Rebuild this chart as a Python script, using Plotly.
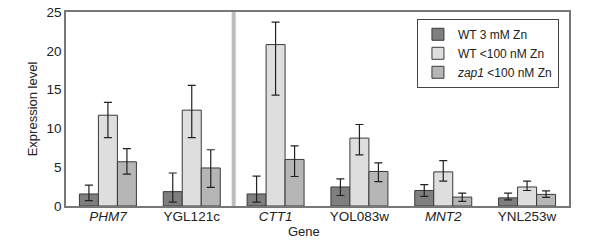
import plotly.graph_objects as go

genes = ["PHM7", "YGL121c", "CTT1", "YOL083w", "MNT2", "YNL253w"]
gene_labels = ["<i>PHM7</i>", "YGL121c", "<i>CTT1</i>", "YOL083w", "<i>MNT2</i>", "YNL253w"]

series_names = ["WT 3 mM Zn", "WT <100 nM Zn", "<i>zap1</i> <100 nM Zn"]

wt_high = [1.55, 1.85, 1.55, 2.45, 2.0, 1.05]
wt_high_up = [1.15, 2.4, 2.3, 1.05, 0.75, 0.6]
wt_high_dn = [0.85, 1.35, 1.05, 1.1, 0.75, 0.27]

wt_low = [11.7, 12.35, 20.8, 8.75, 4.4, 2.45]
wt_low_up = [1.65, 3.2, 2.9, 1.75, 1.45, 0.75]
wt_low_dn = [2.9, 3.55, 6.5, 2.15, 1.2, 0.45]

zap_low = [5.7, 4.9, 6.0, 4.45, 1.15, 1.5]
zap_low_up = [1.7, 2.35, 1.75, 1.1, 0.5, 0.45]
zap_low_dn = [1.6, 2.5, 2.2, 1.3, 0.55, 0.4]

colors = ["#7f7f7f", "#dedede", "#b6b6b6"]
values = [wt_high, wt_low, zap_low]
ups = [wt_high_up, wt_low_up, zap_low_up]
dns = [wt_high_dn, wt_low_dn, zap_low_dn]

fig = go.Figure()
for name, v, u, d, c in zip(series_names, values, ups, dns, colors):
    fig.add_trace(go.Bar(
        x=genes, y=v, name=name,
        marker=dict(color=c, line=dict(color="#3a3a3a", width=1)),
        error_y=dict(type="data", symmetric=False, array=u, arrayminus=d,
                     color="#222222", thickness=1.2, width=4),
    ))

fig.add_shape(type="line", xref="x", yref="paper", x0=1.5, x1=1.5, y0=0, y1=1,
              line=dict(color="#bdbdbd", width=4))

fig.add_annotation(text="Gene", xref="paper", yref="paper", x=0.473, y=0,
                   yshift=-25, xanchor="center", yanchor="middle",
                   showarrow=False, font=dict(size=13))

font_family = "Liberation Sans, Arial, sans-serif"
fig.update_layout(
    width=600, height=242,
    margin=dict(l=66, r=31, t=12, b=36, autoexpand=False),
    paper_bgcolor="white", plot_bgcolor="white",
    barmode="group", bargap=0.32, bargroupgap=0,
    font=dict(family=font_family, size=13, color="#222222"),
    showlegend=True,
    legend=dict(x=0.98, y=0.965, xanchor="right", yanchor="top",
                bordercolor="#444444", borderwidth=1, bgcolor="white",
                font=dict(size=12), tracegroupgap=0, itemwidth=30,
                traceorder="normal"),
    xaxis=dict(tickmode="array", tickvals=genes, ticktext=gene_labels,
               showline=True, linecolor="#777777", linewidth=1.5, mirror=True,
               ticks="", showgrid=False, automargin=False,
               ticklabelstandoff=-3,
               tickfont=dict(size=13.5)),
    yaxis=dict(range=[0, 25], dtick=5, tick0=0,
               showline=True, linecolor="#777777", linewidth=1.5, mirror=True,
               ticks="", showgrid=False, zeroline=False, automargin=False,
               tickfont=dict(size=13.5),
               title=dict(text="Expression level", standoff=6, font=dict(size=13))),
)

fig.write_html("out.html", config={"displayModeBar": False},
               post_script="document.body.style.margin='0';document.body.style.overflow='hidden';")
